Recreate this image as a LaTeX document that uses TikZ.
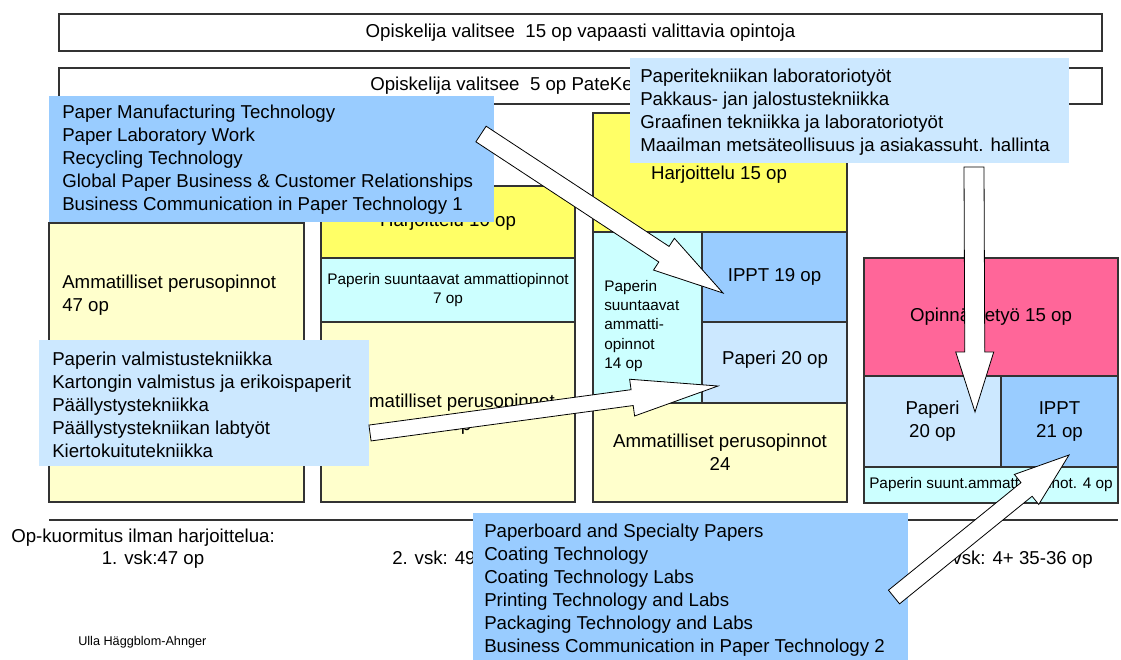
\documentclass[tikz,border=0pt]{standalone}
\usepackage{fontspec}
\setmainfont{Liberation Sans}
\usetikzlibrary{calc,fit}

\definecolor{harjyellow}{HTML}{FFFF66}
\definecolor{perusyellow}{HTML}{FFFFCC}
\definecolor{suuncyan}{HTML}{CCFFFF}
\definecolor{ipptblue}{HTML}{99CCFF}
\definecolor{paperblue}{HTML}{CCE8FF}
\definecolor{thesispink}{HTML}{FF6699}

% tail, tip, shaft half width, head half width, head length
\newcommand{\blockarrow}[5]{%
  \coordinate (hb) at ($(#2)!#5!(#1)$);
  \filldraw[fat] ($(#1)!#3!90:(#2)$) -- ($(hb)!#3!90:(#2)$) -- ($(hb)!#4!90:(#2)$) -- (#2)
    -- ($(hb)!#4!-90:(#2)$) -- ($(hb)!#3!-90:(#2)$) -- ($(#1)!#3!-90:(#2)$) -- cycle;%
}

\begin{document}
\begin{tikzpicture}[x=0.75pt,y=-0.75pt]
  \tikzset{box/.style = {draw=black!80,line width=0.8pt,inner sep=0pt}}
  \tikzset{list/.style = {inner sep=0pt}}
  \tikzset{txt/.style = {inner sep=0pt,font=\fontsize{14}{17.25}\selectfont,align=left}}
  \tikzset{ctxt/.style = {inner sep=0pt,font=\fontsize{14}{17.5}\selectfont,align=center}}
  \tikzset{small/.style = {font=\fontsize{11.5}{14.6}\selectfont}}
  \tikzset{fat/.style = {fill=white,draw=black,line width=0.6pt,line join=miter}}

  \useasboundingbox (0,0) rectangle (1121,660);

  % elective rows
  \node[box,fit={(59,14)(1102,51)}] (vapaa) {};
  \node[ctxt] (vapaaT) at (vapaa) {Opiskelija valitsee\ \ 15 op vapaasti valittavia opintoja};
  \node[box,fit={(59,68)(1102,104)}] (pateke) {};
  \node[txt,anchor=west] (patekeT) at (370,86) {Opiskelija valitsee\ \ 5 op PateKe};

  % 1. vsk
  \node[box,fill=perusyellow,fit={(49,223)(304,502)}] (c1) {};
  \node[txt,anchor=west] (c1T) at (62,295) {Ammatilliset perusopinnot\\47 op};

  % 2. vsk
  \node[box,fill=harjyellow,fit={(321,186)(575,258)}] (c2h) {};
  \node[ctxt] (c2hT) at (c2h) {Harjoittelu 10 op};
  \node[box,fill=suuncyan,fit={(321,258)(575,322)}] (c2s) {};
  \node[ctxt,small] (c2sT) at (c2s) {Paperin suuntaavat ammattiopinnot\\7 op};
  \node[box,fill=perusyellow,fit={(321,322)(575,502)}] (c2a) {};
  \node[ctxt] (c2aT) at (448,414) {Ammatilliset perusopinnot\\42 op};

  % 3. vsk
  \node[box,fill=harjyellow,fit={(593,113)(847,232)}] (c3h) {};
  \node[ctxt] (c3hT) at (719,175) {Harjoittelu 15 op};
  \node[box,fill=suuncyan,fit={(593,232)(702,403)}] (c3s) {};
  \node[txt,small,anchor=west] (c3sT) at (604,326) {Paperin\\suuntaavat\\ammatti-\\opinnot\\14 op};
  \node[box,fill=ipptblue,fit={(702,232)(847,322)}] (c3i) {};
  \node[ctxt] (c3iT) at (c3i) {IPPT 19 op};
  \node[box,fill=paperblue,fit={(702,322)(847,403)}] (c3p) {};
  \node[ctxt] (c3pT) at (775,360) {Paperi 20 op};
  \node[box,fill=perusyellow,fit={(593,403)(847,502)}] (c3a) {};
  \node[ctxt] (c3aT) at (c3a) {Ammatilliset perusopinnot\\24};

  % 4. vsk
  \node[box,fill=thesispink,fit={(864,258)(1118,376)}] (c4o) {};
  \node[ctxt] (c4oT) at (c4o) {Opinnäytetyö 15 op};
  \node[box,fill=paperblue,fit={(864,376)(1001,467)}] (c4p) {};
  \node[ctxt] (c4pT) at (c4p) {Paperi\\20 op};
  \node[box,fill=ipptblue,fit={(1001,376)(1118,467)}] (c4i) {};
  \node[ctxt] (c4iT) at (c4i) {IPPT\\21 op};
  \node[box,fill=suuncyan,fit={(864,467)(1118,503)}] (c4s) {};
  \node[ctxt,small] (c4sT) at (c4s) {Paperin suunt.ammattiopinnot. 4 op};

  \draw[black!80,line width=0.8pt] (49,520) -- (1118,520);

  \node[txt,anchor=west] (kuorm) at (11,538) {Op-kuormitus ilman harjoittelua:};
  \node[txt,anchor=base] (vsk1) at (153,564) {1. vsk:47 op};
  \node[txt,anchor=base west] (vsk2) at (392,564) {2. vsk: 49};
  \node[txt,anchor=base east] (vsk4) at (1093,564) {vsk: 4+ 35-36 op};
  \node[txt,font=\fontsize{9.5}{11}\selectfont,anchor=west] (author) at (78,642) {Ulla Häggblom-Ahnger};

  % course lists
  \node[list,fill=ipptblue,fit={(49,96)(494,222)}] (engA) {};
  \node[txt,anchor=west] (engAT) at (62,160) {Paper Manufacturing Technology\\Paper Laboratory Work\\Recycling Technology\\Global Paper Business \& Customer Relationships\\Business Communication in Paper Technology 1};
  \node[list,fill=paperblue,fit={(630,58)(1069,163)}] (finB) {};
  \node[txt,anchor=west] (finBT) at (640,112) {Paperitekniikan laboratoriotyöt\\Pakkaus- jan jalostustekniikka\\Graafinen tekniikka ja laboratoriotyöt\\Maailman metsäteollisuus ja asiakassuht. hallinta};
  \node[list,fill=paperblue,fit={(39,340)(369,466)}] (finD) {};
  \node[txt,anchor=west] (finDT) at (52,405) {Paperin valmistustekniikka\\Kartongin valmistus ja erikoispaperit\\Päällystystekniikka\\Päällystystekniikan labtyöt\\Kiertokuitutekniikka};
  \node[list,fill=ipptblue,fit={(473,513)(908,662)}] (engC) {};
  \node[txt,anchor=west] (engCT) at (484,590) {Paperboard and Specialty Papers\\Coating Technology\\Coating Technology Labs\\Printing Technology and Labs\\Packaging Technology and Labs\\Business Communication in Paper Technology 2};

  % arrows
  \coordinate (a1s) at (481,134); \coordinate (a1e) at (723,293);
  \coordinate (a2s) at (370,433); \coordinate (a2e) at (718,386);
  \coordinate (a3s) at (974,167); \coordinate (a3e) at (975,412);
  \coordinate (a4s) at (894,597); \coordinate (a4e) at (1069,455);
  \foreach \from/\to/\sw/\hw/\hl in {a1s/a1e/7pt/14.25pt/53pt, a2s/a2e/6pt/13.9pt/65pt,
      a3s/a3e/7.5pt/14.25pt/45pt, a4s/a4e/6.6pt/14.5pt/41pt}
    {\blockarrow{\from}{\to}{\sw}{\hw}{\hl}}
\end{tikzpicture}
\end{document}
